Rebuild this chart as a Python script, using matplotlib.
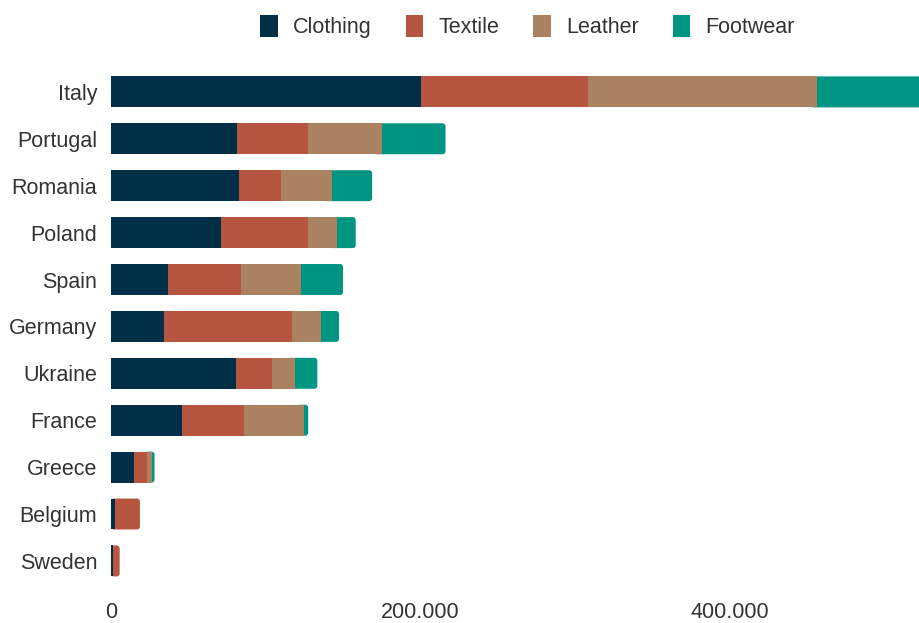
import matplotlib.pyplot as plt
from matplotlib.patches import FancyBboxPatch, Patch
import numpy as np

plt.rcParams['font.family'] = ['Liberation Sans', 'DejaVu Sans']

countries = ['Italy', 'Portugal', 'Romania', 'Poland', 'Spain', 'Germany',
             'Ukraine', 'France', 'Greece', 'Belgium', 'Sweden']
clothing = [200000, 81400, 82700, 70800, 36600, 34000, 80500, 46000, 15000, 2400, 1100]
textile = [108000, 46000, 27000, 56700, 47200, 82900, 23500, 40000, 8200, 16300, 4500]
leather = [148000, 47400, 33000, 18700, 38900, 18800, 15000, 38800, 3400, 0, 0]
footwear = [70000, 41300, 26000, 11900, 27200, 11600, 14300, 2600, 1500, 0, 0]

series = {'Clothing': clothing, 'Textile': textile, 'Leather': leather, 'Footwear': footwear}
colors = ['#022f48', '#b65640', '#aa8262', '#009483']
bar_h = 0.66

fig = plt.figure(figsize=(9.19, 6.23), dpi=100)
ax = fig.add_axes([111 / 919, 1 - 590 / 623, 1 - 111 / 919, 530 / 623])

y = np.arange(len(countries))
vals = np.array(list(series.values()), dtype=float)
left = np.zeros(len(countries))
containers = []
for (name, v), c in zip(series.items(), colors):
    bars = ax.barh(y, v, left=left, height=bar_h, color=c, linewidth=0, zorder=2)
    containers.append(bars)
    left += v

# last segment of each bar gets a rounded right end; it is drawn beneath
# the other segments and starts a little early so its left corners stay hidden
rx, ry = 1900, 0.064
for i in range(len(countries)):
    k = np.nonzero(vals[:, i])[0][-1]
    containers[k].patches[i].set_visible(False)
    prev = vals[:k, i].sum()
    start = max(prev - 5000, 0) if k > 0 else 0
    end = vals[:, i].sum()
    ax.add_patch(FancyBboxPatch((start, y[i] - bar_h / 2), end - start, bar_h,
                                boxstyle=f'round,pad=0,rounding_size={rx}',
                                mutation_aspect=ry / rx, facecolor=colors[k],
                                linewidth=0, zorder=1))

ax.set_xlim(0, 522000)
ax.set_ylim(10.62, -0.68)
ax.set_yticks(y)
ax.set_yticklabels(countries)
ax.set_xticks([0, 200000, 400000])
ax.set_xticklabels(['0', '200.000', '400.000'])
ax.tick_params(length=0, labelsize=15.5, colors='#333333')
ax.tick_params(axis='y', pad=10)
ax.tick_params(axis='x', pad=9)
for s in ax.spines.values():
    s.set_visible(False)

handles = [Patch(facecolor=c, linewidth=0, label=name) for name, c in zip(series, colors)]
fig.legend(handles=handles, loc='center', bbox_to_anchor=(0.574, 0.957), ncol=4,
           frameon=False, fontsize=15.5, handlelength=0.8, handleheight=1.2,
           handletextpad=0.7, columnspacing=1.6, labelcolor='#333333')

fig.savefig('out.png', dpi=100)
